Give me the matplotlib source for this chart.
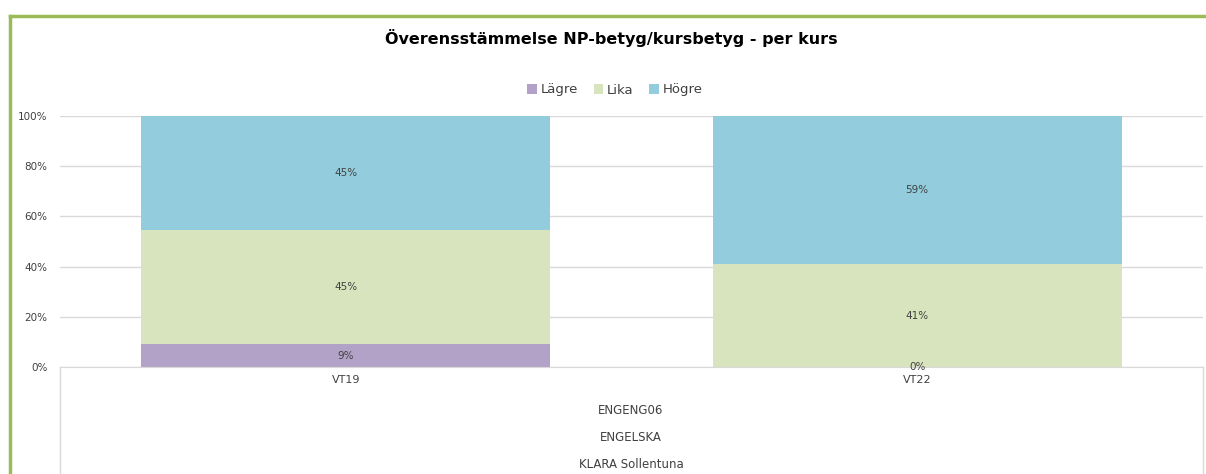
import matplotlib.pyplot as plt
from matplotlib.lines import Line2D
import numpy as np

plt.rcParams['font.family'] = ['DejaVu Sans']

kurser = ['VT19', 'VT22']
lagre = [9.1, 0.0]
lika = [45.45, 40.9]
hogre = [45.45, 59.1]
etiketter_lagre = ['9%', '0%']
etiketter_lika = ['45%', '41%']
etiketter_hogre = ['45%', '59%']
grupp = ['ENGENG06', 'ENGELSKA', 'KLARA Sollentuna']

textfarg = '#404040'

fig = plt.figure(figsize=(12.06, 4.74), dpi=100)
ax = fig.add_axes([60/1206, 107/474, 1143/1206, 251/474])

x = np.arange(len(kurser))
b = 0.716
serier = [('Lägre', lagre, etiketter_lagre, '#b3a2c7'),
          ('Lika', lika, etiketter_lika, '#d7e4bd'),
          ('Högre', hogre, etiketter_hogre, '#93cddd')]
botten = np.zeros(len(kurser))
for namn, varden, etik, farg in serier:
    v = np.array(varden)
    ax.bar(x, v, b, bottom=botten, color=farg, label=namn, zorder=2)
    for i in range(len(kurser)):
        ax.text(x[i], botten[i] + v[i] / 2, etik[i], ha='center', va='center',
                fontsize=7.5, color=textfarg, zorder=3)
    botten = botten + v

ax.set_xlim(-0.5, 1.5)
ax.set_ylim(0, 100)
ax.set_yticks(range(0, 101, 20))
ax.set_yticklabels([f'{t}%' for t in range(0, 101, 20)])
ax.yaxis.grid(True, color='#d9d9d9', linewidth=1, zorder=0)
ax.tick_params(axis='y', length=0, labelsize=7.5, labelcolor=textfarg, pad=9)
ax.set_xticks(x)
ax.set_xticklabels(kurser)
ax.tick_params(axis='x', length=0, labelsize=8, labelcolor=textfarg, pad=6)
for s in ['top', 'right', 'left']:
    ax.spines[s].set_visible(False)
ax.spines['bottom'].set_color('#d9d9d9')

# kategoriruta under axeln
for xp in [60, 1203]:
    fig.add_artist(Line2D([xp/1206, xp/1206], [0, 107/474], color='#d9d9d9', lw=1))
for i, t in enumerate(grupp):
    fig.text(631/1206, 1 - (411 + 26.5*i)/474, t, ha='center', va='center',
             fontsize=8.5, color=textfarg)

fig.text(611/1206, 1 - 38/474, 'Överensstämmelse NP-betyg/kursbetyg - per kurs',
         ha='center', va='center', fontsize=11.5, fontweight='bold', color='black')
fig.legend(loc='center', bbox_to_anchor=(615/1206, 1 - 90/474), ncol=3, frameon=False,
           fontsize=9.5, handlelength=0.7, handleheight=0.7, handletextpad=0.3,
           columnspacing=1.2, labelcolor=textfarg)

# grön ram
fig.add_artist(Line2D([10/1206, 10/1206], [0, 1 - 16/474], color='#9bbb59', lw=2.5))
fig.add_artist(Line2D([10/1206, 1], [1 - 16/474, 1 - 16/474], color='#9bbb59', lw=2.5))

fig.savefig('out.png', dpi=100)
